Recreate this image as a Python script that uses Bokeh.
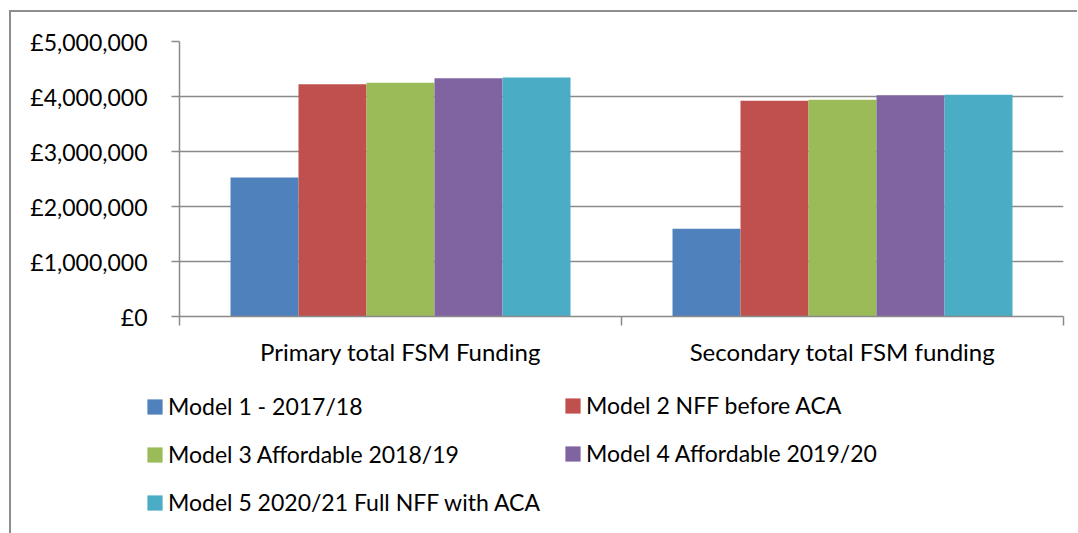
from bokeh.plotting import figure
from bokeh.models import Range1d, FixedTicker, Legend, LegendItem, ColumnDataSource
from bokeh.layouts import column
from bokeh.embed import file_html
from bokeh.resources import INLINE

categories = ["Primary total FSM Funding", "Secondary total FSM funding"]
series_names = ["Model 1 - 2017/18", "Model 2 NFF before ACA",
                "Model 3 Affordable 2018/19", "Model 4 Affordable 2019/20",
                "Model 5 2020/21 Full NFF with ACA"]
model1 = [2527000, 1594000]
model2 = [4224000, 3921000]
model3 = [4249000, 3939000]
model4 = [4333000, 4024000]
model5 = [4345000, 4030000]
y_ticks = [0, 1000000, 2000000, 3000000, 4000000, 5000000]
y_tick_labels = ["£0", "£1,000,000", "£2,000,000", "£3,000,000", "£4,000,000", "£5,000,000"]
colors = ["#4F81BD", "#C0504D", "#9BBB59", "#8064A2", "#4BACC6"]

series = [model1, model2, model3, model4, model5]
FONT = "Lato"
GRID = "#8a8a8a"

W = 1066
H1 = 363
H2 = 158
bw = 1.0 / 6.5

p = figure(width=W, height=H1, output_backend="svg", toolbar_location=None,
           x_range=Range1d(0, len(categories)), y_range=Range1d(0, 5000000),
           min_border_left=168, min_border_right=14, min_border_top=29,
           min_border_bottom=59)
p.outline_line_color = None
p.background_fill_color = "white"
p.border_fill_color = "white"

# grid
p.xgrid.visible = False
p.ygrid.ticker = FixedTicker(ticks=y_ticks)
p.ygrid.grid_line_color = GRID
p.ygrid.grid_line_width = 1.5

sources = []
for k, vals in enumerate(series):
    xs = [i + 0.5 + (k - 2) * bw for i in range(len(categories))]
    src = ColumnDataSource(dict(x=xs, top=vals))
    sources.append(src)
    p.vbar(x="x", top="top", bottom=0, width=bw, source=src,
           fill_color=colors[k], line_color=None)

# x axis
xa = p.xaxis[0]
xa.ticker = FixedTicker(ticks=[i + 0.5 for i in range(len(categories))],
                        minor_ticks=list(range(len(categories) + 1)))
xa.major_label_overrides = {i + 0.5: c for i, c in enumerate(categories)}
xa.major_tick_line_color = None
xa.major_tick_in = 0
xa.major_tick_out = 0
xa.minor_tick_in = 0
xa.minor_tick_out = 9
xa.minor_tick_line_color = GRID
xa.minor_tick_line_width = 1.5
xa.axis_line_color = GRID
xa.axis_line_width = 1.5
xa.major_label_standoff = 11
xa.major_label_text_font = FONT
xa.major_label_text_font_size = "24px"
xa.major_label_text_color = "black"

# y axis
ya = p.yaxis[0]
ya.ticker = FixedTicker(ticks=y_ticks)
ya.major_label_overrides = {t: l for t, l in zip(y_ticks, y_tick_labels)}
ya.major_tick_in = 0
ya.major_tick_out = 8
ya.major_tick_line_color = GRID
ya.major_tick_line_width = 1.5
ya.minor_tick_line_color = None
ya.axis_line_color = GRID
ya.axis_line_width = 1.5
ya.major_label_standoff = 24
ya.major_label_text_font = FONT
ya.major_label_text_font_size = "23px"
ya.major_label_text_color = "black"

# legend figure (same series, kept out of view so that only the legend shows)
p2 = figure(width=W, height=H2, output_backend="svg", toolbar_location=None,
            x_range=Range1d(0, len(categories)), y_range=Range1d(6000000, 10000000),
            x_axis_location=None, y_axis_location=None,
            min_border_left=0, min_border_right=0, min_border_top=0, min_border_bottom=0)
p2.frame_align = False
p2.grid.visible = False
p2.outline_line_color = None
p2.background_fill_color = "white"
p2.border_fill_color = "white"

leg_renderers = []
for k in range(len(series_names)):
    r = p2.vbar(x="x", top="top", bottom=0, width=bw, source=sources[k],
                fill_color=colors[k], line_color=None)
    leg_renderers.append(r)

def make_legend(idx, loc):
    return Legend(items=[LegendItem(label=series_names[i], renderers=[leg_renderers[i]]) for i in idx],
                  location=loc, orientation="vertical",
                  glyph_width=19, glyph_height=19, label_standoff=4, spacing=20,
                  padding=0, margin=0, border_line_color=None, background_fill_alpha=0,
                  label_text_font=FONT, label_text_font_size="23px",
                  label_text_color="black")

p2.add_layout(make_legend([0, 2, 4], (134, 17)))
p2.add_layout(make_legend([1, 3], (552, 66)))

layout = column(p, p2, spacing=0)
layout.styles = {"margin-left": "9px", "margin-top": "10px",
                 "border-left": "2px solid #8e8e8e", "border-top": "2px solid #8e8e8e"}

open("out.html", "w").write(file_html(layout, INLINE))
